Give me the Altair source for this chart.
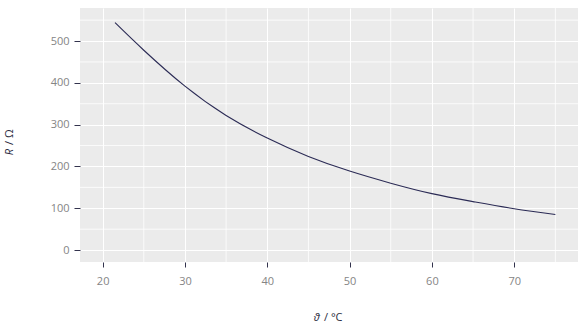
import altair as alt
import pandas as pd

# Data
temperature = [21.5, 25, 30, 35, 40, 45, 50, 55, 60, 65, 70, 75]
resistance = [544, 478, 392, 322, 268, 224, 189, 160, 135, 116, 99, 85]

x_ticks = [20, 30, 40, 50, 60, 70]
y_ticks = [0, 100, 200, 300, 400, 500]
x_minor = [25, 35, 45, 55, 65, 75]
y_minor = [50, 150, 250, 350, 450, 550]

df = pd.DataFrame({"t": temperature, "r": resistance})
xm = pd.DataFrame({"v": x_minor})
ym = pd.DataFrame({"v": y_minor})
one = pd.DataFrame({"a": [0]})

xdom = [17.25, 77.75]
ydom = [-28.5, 579]
font = "Open Sans"
title_color = "#2b2b40"

xscale = alt.Scale(domain=xdom, nice=False, zero=False)
yscale = alt.Scale(domain=ydom, nice=False, zero=False)

xaxis = alt.Axis(values=x_ticks, title=None, grid=True, gridColor="white",
                 gridWidth=1.1, domain=False, tickColor="#33334d", tickSize=5,
                 labelColor="#858585", labelFont=font, labelFontSize=11,
                 labelPadding=8)
yaxis = alt.Axis(values=y_ticks, title=None, grid=True, gridColor="white",
                 gridWidth=1.1, domain=False, tickColor="#33334d", tickSize=6,
                 labelColor="#858585", labelFont=font, labelFontSize=11,
                 labelPadding=5)

minor_x = alt.Chart(xm).mark_rule(color="white", strokeWidth=0.8).encode(
    x=alt.X("v:Q", scale=xscale, axis=xaxis)
)
minor_y = alt.Chart(ym).mark_rule(color="white", strokeWidth=0.8).encode(
    y=alt.Y("v:Q", scale=yscale, axis=yaxis)
)

line = alt.Chart(df).mark_line(color="#2b2b55", strokeWidth=1.1, interpolate="natural").encode(
    x=alt.X("t:Q", scale=xscale, axis=xaxis),
    y=alt.Y("r:Q", scale=yscale, axis=yaxis),
)

# Axis titles with italic symbols
xt1 = alt.Chart(one).mark_text(text="ϑ", font=font, fontSize=11, fontStyle="italic",
                               align="right", baseline="middle", color=title_color).encode(
    x=alt.value(240), y=alt.value(310))
xt2 = alt.Chart(one).mark_text(text="/ °C", font=font, fontSize=11, dx=4,
                               align="left", baseline="middle", color=title_color).encode(
    x=alt.value(240), y=alt.value(310))
yt1 = alt.Chart(one).mark_text(text="R", font=font, fontSize=11, fontStyle="italic", angle=270,
                               align="right", baseline="middle", color=title_color).encode(
    x=alt.value(-70), y=alt.value(141))
yt2 = alt.Chart(one).mark_text(text="/ Ω", font=font, fontSize=11, angle=270, dx=4,
                               align="left", baseline="middle", color=title_color).encode(
    x=alt.value(-70), y=alt.value(141))

chart = alt.layer(minor_x, minor_y, line, xt1, xt2, yt1, yt2).properties(
    width=498, height=254,
    autosize=alt.AutoSizeParams(type="none"),
    padding={"left": 80, "top": 8, "right": 8, "bottom": 69},
    background="white",
).configure_view(fill="#EBEBEB", stroke=None)

chart.save("out.html", embed_options={"renderer": "svg", "actions": False})
